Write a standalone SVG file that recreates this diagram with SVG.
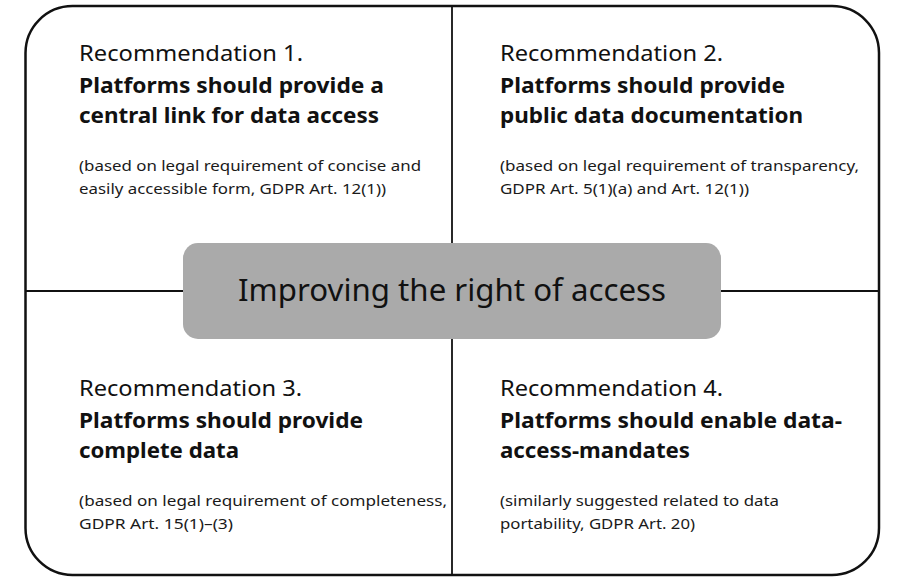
<svg xmlns="http://www.w3.org/2000/svg" width="906" height="583" viewBox="0 0 906 583">
<style>
.frame{fill:#fff;stroke:#111;stroke-width:2.5}
.line{stroke:#111;stroke-width:1.8;fill:none}
.t{font-family:"Noto Sans","Open Sans","Liberation Sans",sans-serif;fill:#111}
.title{font-size:21px;font-weight:400}
.bold{font-size:21px;font-weight:700}
.small{font-size:15px;fill:#1a1a1a}
.center{font-size:31px;fill:#111}
</style>
<rect width="906" height="583" fill="#fff"/>
<rect class="frame" x="25.5" y="6" width="853.5" height="569" rx="47" ry="47"/>
<g id="connectors">
<line class="line" x1="452" y1="6" x2="452" y2="243"/>
<line class="line" x1="452" y1="339" x2="452" y2="575"/>
<line class="line" x1="25" y1="291" x2="183" y2="291"/>
<line class="line" x1="721" y1="291" x2="879" y2="291"/>
</g>
<g id="center">
<rect x="183" y="243" width="538" height="96" rx="15" ry="15" fill="#aaaaaa"/>
<text class="t center" x="452" y="301" text-anchor="middle" textLength="428" lengthAdjust="spacingAndGlyphs">Improving the right of access</text>
</g>
<g id="rec1">
<text class="t title" x="79" y="61" textLength="224" lengthAdjust="spacingAndGlyphs">Recommendation 1.</text>
<text class="t bold" x="79" y="93" textLength="305" lengthAdjust="spacingAndGlyphs">Platforms should provide a</text>
<text class="t bold" x="79" y="123" textLength="300" lengthAdjust="spacingAndGlyphs">central link for data access</text>
<text class="t small" x="79" y="171" textLength="342" lengthAdjust="spacingAndGlyphs">(based on legal requirement of concise and</text>
<text class="t small" x="79" y="194" textLength="307" lengthAdjust="spacingAndGlyphs">easily accessible form, GDPR Art. 12(1))</text>
</g>
<g id="rec2">
<text class="t title" x="500" y="61" textLength="223" lengthAdjust="spacingAndGlyphs">Recommendation 2.</text>
<text class="t bold" x="500" y="93" textLength="285" lengthAdjust="spacingAndGlyphs">Platforms should provide</text>
<text class="t bold" x="500" y="123" textLength="303" lengthAdjust="spacingAndGlyphs">public data documentation</text>
<text class="t small" x="500" y="171" textLength="359" lengthAdjust="spacingAndGlyphs">(based on legal requirement of transparency,</text>
<text class="t small" x="500" y="194" textLength="249" lengthAdjust="spacingAndGlyphs">GDPR Art. 5(1)(a) and Art. 12(1))</text>
</g>
<g id="rec3">
<text class="t title" x="79" y="396" textLength="223" lengthAdjust="spacingAndGlyphs">Recommendation 3.</text>
<text class="t bold" x="79" y="428" textLength="284" lengthAdjust="spacingAndGlyphs">Platforms should provide</text>
<text class="t bold" x="79" y="458" textLength="160" lengthAdjust="spacingAndGlyphs">complete data</text>
<text class="t small" x="79" y="506" textLength="368" lengthAdjust="spacingAndGlyphs">(based on legal requirement of completeness,</text>
<text class="t small" x="79" y="529" textLength="154" lengthAdjust="spacingAndGlyphs">GDPR Art. 15(1)–(3)</text>
</g>
<g id="rec4">
<text class="t title" x="500" y="396" textLength="223" lengthAdjust="spacingAndGlyphs">Recommendation 4.</text>
<text class="t bold" x="500" y="428" textLength="342" lengthAdjust="spacingAndGlyphs">Platforms should enable data-</text>
<text class="t bold" x="500" y="458" textLength="190" lengthAdjust="spacingAndGlyphs">access-mandates</text>
<text class="t small" x="500" y="506" textLength="279" lengthAdjust="spacingAndGlyphs">(similarly suggested related to data</text>
<text class="t small" x="500" y="529" textLength="195" lengthAdjust="spacingAndGlyphs">portability, GDPR Art. 20)</text>
</g>
</svg>
